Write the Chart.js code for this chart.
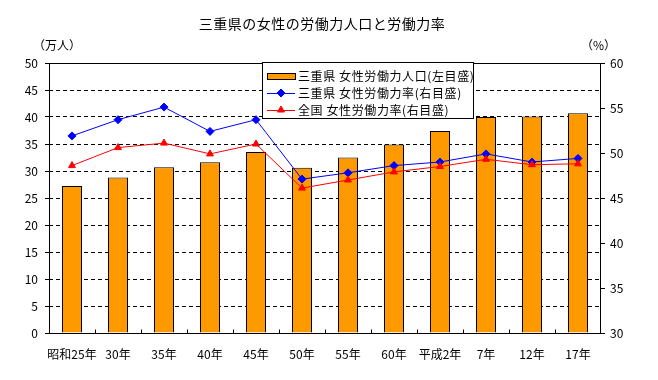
<!DOCTYPE html>
<html>
<head>
<meta charset="utf-8">
<script src="https://cdn.jsdelivr.net/npm/chart.js@4/dist/chart.umd.min.js"></script>
<style>
html,body{margin:0;padding:0;background:#fff;}
#wrap{width:658px;height:380px;position:relative;}
</style>
</head>
<body>
<div id="wrap"><canvas id="c" width="658" height="380"></canvas></div>
<script>
const categories = ['昭和25年','30年','35年','40年','45年','50年','55年','60年','平成2年','7年','12年','17年'];
const miePopulation = [27.2, 28.8, 30.7, 31.6, 33.5, 30.6, 32.5, 34.9, 37.4, 40.0, 40.1, 40.7];
const mieRate = [51.9, 53.7, 55.1, 52.4, 53.7, 47.1, 47.8, 48.6, 49.0, 49.9, 49.0, 49.4];
const nationalRate = [48.6, 50.6, 51.1, 49.9, 51.0, 46.1, 47.0, 47.9, 48.5, 49.3, 48.7, 48.8];
const leftTicks = [0, 5, 10, 15, 20, 25, 30, 35, 40, 45, 50];
const rightTicks = [30, 35, 40, 45, 50, 55, 60];
const titleText = '三重県の女性の労働力人口と労働力率';
const leftUnit = '（万人）';
const rightUnit = '（%）';
const seriesLabels = ['三重県 女性労働力人口(左目盛)', '三重県 女性労働力率(右目盛)', '全国 女性労働力率(右目盛)'];

const FONT = "'Noto Sans CJK JP', 'Noto Sans', sans-serif";

const decor = {
  id: 'decor',
  afterDraw(chart) {
    const ctx = chart.ctx;
    const a = chart.chartArea;
    const xs = chart.scales.x;
    ctx.save();
    // frame
    ctx.strokeStyle = '#000';
    ctx.lineWidth = 1;
    ctx.setLineDash([]);
    const L = Math.round(a.left) + 0.5, R = Math.round(a.right) - 0.5;
    const T = Math.round(a.top) + 0.5, B = Math.round(a.bottom) + 0.5;
    ctx.strokeRect(L, T, R - L, B - T);
    // inward x ticks at category boundaries
    ctx.beginPath();
    for (let i = 1; i < categories.length; i++) {
      const x = Math.round((xs.getPixelForValue(i - 1) + xs.getPixelForValue(i)) / 2) + 0.5;
      ctx.moveTo(x, B);
      ctx.lineTo(x, B - 4);
    }
    ctx.stroke();
    // title
    ctx.fillStyle = '#000';
    ctx.font = '14px ' + FONT;
    ctx.textAlign = 'center';
    ctx.textBaseline = 'middle';
    ctx.letterSpacing = '0.5px';
    ctx.fillText(titleText, 322, 24);
    ctx.letterSpacing = '0px';
    // units
    ctx.font = '12px ' + FONT;
    ctx.textAlign = 'left';
    ctx.fillText(leftUnit, 33, 45);
    ctx.fillText(rightUnit, 581, 45);
    // legend
    const lx = 262, ly = 62, lw = 211, lh = 56;
    ctx.fillStyle = '#fff';
    ctx.fillRect(lx, ly, lw, lh);
    ctx.strokeStyle = '#000';
    ctx.strokeRect(lx + 0.5, ly + 0.5, lw, lh);
    const ds = chart.data.datasets;
    const rows = [76, 93, 110];
    rows.forEach((ry, i) => {
      const d = ds[i];
      if (i === 0) {
        ctx.fillStyle = d.backgroundColor;
        ctx.fillRect(267, ry - 3, 28, 6);
        ctx.strokeStyle = '#000';
        ctx.strokeRect(267.5, ry - 2.5, 28, 6);
      } else {
        ctx.strokeStyle = d.borderColor;
        ctx.lineWidth = 1;
        ctx.beginPath();
        ctx.moveTo(267, ry + 0.5);
        ctx.lineTo(295, ry + 0.5);
        ctx.stroke();
        ctx.fillStyle = d.pointBackgroundColor;
        ctx.strokeStyle = d.pointBorderColor;
        Chart.helpers.drawPoint(ctx, {pointStyle: d.pointStyle, radius: d.pointRadius, borderWidth: 1}, 281, ry);
      }
      ctx.fillStyle = '#000';
      ctx.font = '12px ' + FONT;
      ctx.textAlign = 'left';
      ctx.textBaseline = 'middle';
      ctx.letterSpacing = '0.6px';
      ctx.fillText(d.label, 298, ry);
      ctx.letterSpacing = '0px';
    });
    ctx.restore();
  }
};

new Chart(document.getElementById('c'), {
  data: {
    labels: categories,
    datasets: [
      {
        type: 'bar', label: seriesLabels[0], data: miePopulation, yAxisID: 'y',
        backgroundColor: '#FF9900', borderColor: '#000', borderWidth: 1,
        barPercentage: 0.435, categoryPercentage: 1.0, order: 2
      },
      {
        type: 'line', label: seriesLabels[1], data: mieRate, yAxisID: 'y1',
        borderColor: '#0000FF', backgroundColor: '#0000FF', borderWidth: 1,
        pointStyle: 'rectRot', pointRadius: 4, pointBackgroundColor: '#0000FF', pointBorderColor: '#0000FF',
        tension: 0, order: 1
      },
      {
        type: 'line', label: seriesLabels[2], data: nationalRate, yAxisID: 'y1',
        borderColor: '#FF0000', backgroundColor: '#FF0000', borderWidth: 1,
        pointStyle: 'triangle', pointRadius: 4, pointBackgroundColor: '#FF0000', pointBorderColor: '#FF0000',
        tension: 0, order: 0
      }
    ]
  },
  options: {
    responsive: false,
    animation: false,
    layout: {padding: {top: 63, left: 0, right: 0, bottom: 0}},
    plugins: {legend: {display: false}, title: {display: false}, tooltip: {enabled: false}},
    scales: {
      x: {
        type: 'category', offset: true,
        grid: {display: false},
        border: {display: false},
        ticks: {color: '#000', font: {family: FONT, size: 12}, padding: 6, maxRotation: 0, autoSkip: false},
        afterFit(s) { s.height = 47; }
      },
      y: {
        position: 'left', min: 0, max: 50,
        afterBuildTicks(s) { s.ticks = leftTicks.map(v => ({value: v})); },
        grid: {
          color: (c) => (c.tick && (c.tick.value === 0 || c.tick.value === 50)) ? 'rgba(0,0,0,0)' : '#000',
          lineWidth: 1, tickLength: 4, tickColor: '#000', tickBorderDash: []
        },
        border: {display: false, dash: [4, 3]},
        ticks: {color: '#000', font: {family: FONT, size: 12}, padding: 7},
        afterFit(s) { s.width = 49; }
      },
      y1: {
        position: 'right', min: 30, max: 60,
        afterBuildTicks(s) { s.ticks = rightTicks.map(v => ({value: v})); },
        grid: {drawOnChartArea: false, color: '#000', tickLength: 4, tickColor: '#000'},
        border: {display: false},
        ticks: {color: '#000', font: {family: FONT, size: 12}, padding: 5},
        afterFit(s) { s.width = 57; }
      }
    }
  },
  plugins: [decor]
});
</script>
</body>
</html>
